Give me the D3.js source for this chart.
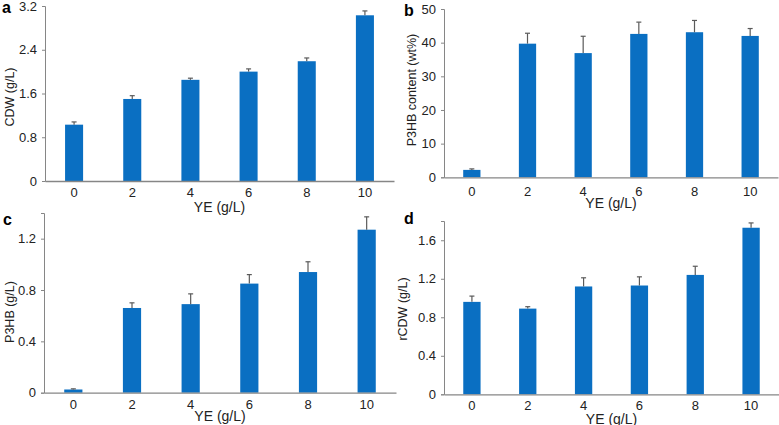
<!DOCTYPE html>
<html>
<head>
<meta charset="utf-8">
<script src="https://cdn.jsdelivr.net/npm/d3@7"></script>
<style>
  body { margin: 0; background: #fff; }
  svg { font-family: "Liberation Sans", Arial, sans-serif; }
</style>
</head>
<body>
<div id="chart"></div>
<script>
// yeast extract concentrations (x categories)
const ye = ['0', '2', '4', '6', '8', '10'];

// panel a: CDW
const cdw = [1.03, 1.50, 1.85, 2.00, 2.19, 3.03];
const cdwErr = [0.05, 0.06, 0.03, 0.05, 0.06, 0.08];
const cdwTicks = [0, 0.8, 1.6, 2.4, 3.2];

// panel b: P3HB content
const content = [2.2, 39.7, 36.9, 42.6, 43.1, 42.0];
const contentErr = [0.3, 3.1, 5.0, 3.5, 3.5, 2.2];
const contentTicks = [0, 10, 20, 30, 40, 50];

// panel c: P3HB
const p3hb = [0.025, 0.66, 0.69, 0.85, 0.94, 1.27];
const p3hbErr = [0.005, 0.04, 0.08, 0.07, 0.08, 0.10];
const p3hbTicks = [0, 0.4, 0.8, 1.2];

// panel d: rCDW
const rcdw = [0.96, 0.89, 1.12, 1.13, 1.24, 1.73];
const rcdwErr = [0.06, 0.02, 0.09, 0.09, 0.09, 0.05];
const rcdwTicks = [0, 0.4, 0.8, 1.2, 1.6];

const W = 779, H = 425;
const svg = d3.select('#chart').append('svg')
  .attr('width', W)
  .attr('height', H);

//zero shown as plain "0", like excel does
const oneDec = d => d === 0 ? '0' : d3.format('.1f')(d);

const panels = [
  {letter: 'a', vals: cdw, err: cdwErr, ticks: cdwTicks, max: 3.2, fmt: oneDec,
   ylab: 'CDW (g/L)', x0: 45, x1: 394, y0: 181, y1: 6,
   lx: 2, ly: 13, ylx: 14, yly: 97, tickY: 197, xlabY: 212},
  {letter: 'b', vals: content, err: contentErr, ticks: contentTicks, max: 50, fmt: d3.format('d'),
   ylab: 'P3HB content (wt%)', x0: 444, x1: 778, y0: 177.3, y1: 9,
   lx: 404, ly: 16, ylx: 416, yly: 90, tickY: 196, xlabY: 208},
  {letter: 'c', vals: p3hb, err: p3hbErr, ticks: p3hbTicks, max: 1.4, fmt: oneDec,
   ylab: 'P3HB (g/L)', x0: 44, x1: 396, y0: 392.7, y1: 213,
   lx: 3, ly: 225, ylx: 14, yly: 312, tickY: 409.5, xlabY: 421},
  {letter: 'd', vals: rcdw, err: rcdwErr, ticks: rcdwTicks, max: 1.8, fmt: oneDec,
   ylab: 'rCDW (g/L)', x0: 444, x1: 779, y0: 394.3, y1: 221,
   lx: 404, ly: 224, ylx: 407, yly: 309, tickY: 410.5, xlabY: 423.5}
];

panels.forEach(renderPanel);

function renderPanel(p){
  const g = svg.append('g');

  const x = d3.scaleBand()
    .domain(ye)
    .range([p.x0, p.x1])
    .paddingInner(0.69)
    .paddingOuter(0.345);

  const y = d3.scaleLinear()
    .domain([0, p.max])
    .range([p.y0, p.y1]);

  // bars
  g.selectAll('rect.bar')
    .data(p.vals)
    .enter()
    .append('rect')
    .attr('class', 'bar')
    .attr('x', (d, i) => x(ye[i]))
    .attr('y', d => y(d))
    .attr('width', x.bandwidth())
    .attr('height', d => y(0) - y(d))
    .style('fill', '#0A6FC2');

  // error bars (upper only)
  const eb = g.selectAll('g.err')
    .data(p.vals)
    .enter()
    .append('g')
    .attr('class', 'err')
    .style('stroke', '#5a5a5a')
    .style('stroke-width', '1.2px');
  eb.append('line')
    .attr('x1', (d, i) => x(ye[i]) + x.bandwidth() / 2)
    .attr('x2', (d, i) => x(ye[i]) + x.bandwidth() / 2)
    .attr('y1', d => y(d))
    .attr('y2', (d, i) => y(d + p.err[i]));
  eb.append('line')
    .attr('x1', (d, i) => x(ye[i]) + x.bandwidth() / 2 - 2.5)
    .attr('x2', (d, i) => x(ye[i]) + x.bandwidth() / 2 + 2.5)
    .attr('y1', (d, i) => y(d + p.err[i]))
    .attr('y2', (d, i) => y(d + p.err[i]));

  // y axis
  const yAxis = g.append('g')
    .attr('transform', `translate(${p.x0},0)`)
    .call(d3.axisLeft(y).tickValues(p.ticks).tickFormat(p.fmt).tickSize(3).tickPadding(5));
  yAxis.select('.domain').style('stroke', '#868686');
  yAxis.selectAll('.tick line').style('stroke', '#868686');
  yAxis.selectAll('.tick text')
    .style('font-size', '13px')
    .style('fill', '#222')
    .style('font-family', '"Liberation Sans", Arial, sans-serif');

  // x axis
  const xAxis = g.append('g')
    .attr('transform', `translate(0,${p.y0})`)
    .call(d3.axisBottom(x).tickSize(0).tickPadding(0).tickSizeOuter(0));
  xAxis.select('.domain').style('stroke', '#868686').style('stroke-width', '1.3px');
  xAxis.selectAll('.tick text')
    .attr('y', p.tickY - p.y0)
    .attr('dy', 0)
    .style('font-size', '13px')
    .style('fill', '#222')
    .style('font-family', '"Liberation Sans", Arial, sans-serif');

  // axis titles
  g.append('text')
    .attr('x', (p.x0 + p.x1) / 2)
    .attr('y', p.xlabY)
    .attr('text-anchor', 'middle')
    .style('font-size', '14px')
    .style('fill', '#222')
    .text('YE (g/L)');

  g.append('text')
    .attr('transform', `translate(${p.ylx},${p.yly}) rotate(-90)`)
    .attr('text-anchor', 'middle')
    .style('font-size', '12.5px')
    .style('fill', '#222')
    .text(p.ylab);

  // panel letter
  g.append('text')
    .attr('x', p.lx)
    .attr('y', p.ly)
    .style('font-size', '16px')
    .style('font-weight', 'bold')
    .style('fill', '#000')
    .text(p.letter);
}
</script>
</body>
</html>
